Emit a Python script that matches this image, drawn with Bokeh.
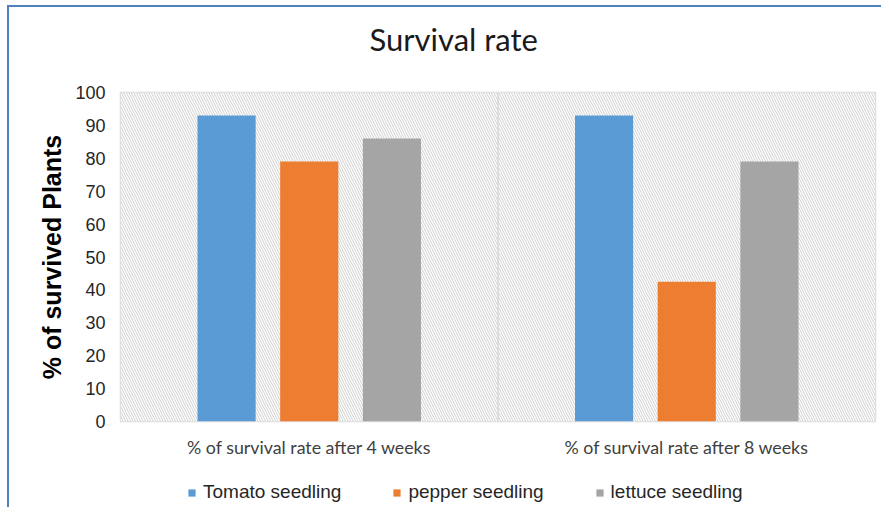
from bokeh.plotting import figure
from bokeh.layouts import column
from bokeh.models import (ColumnDataSource, FactorRange, BoxAnnotation, Legend,
                          LegendItem, Span, FixedTicker)
from bokeh.transform import dodge
from bokeh.embed import file_html
from bokeh.resources import INLINE

categories = ["% of survival rate after 4 weeks", "% of survival rate after 8 weeks"]
series_names = ["Tomato seedling", "pepper seedling", "lettuce seedling"]
tomato = [93, 93]
pepper = [79, 42.5]
lettuce = [86, 79]
colors = ["#5b9bd5", "#ed7d31", "#a5a5a5"]
y_ticks = list(range(0, 101, 10))

src = ColumnDataSource(dict(cat=categories, tomato=tomato, pepper=pepper, lettuce=lettuce))

# title strip
tf = figure(width=872, height=75, output_backend="svg", toolbar_location=None,
            x_range=(0, 1), y_range=(0, 1), min_border=0)
tf.axis.visible = False
tf.grid.grid_line_color = None
tf.outline_line_color = None
tf.title.text = "Survival rate"
tf.title.align = "left"
tf.title.offset = 249
tf.title.text_font = "Lato"
tf.title.text_font_size = "31px"
tf.title.text_font_style = "normal"
tf.title.text_color = "#1a1a1a"
tf.title.standoff = 21

p = figure(x_range=FactorRange(*categories), y_range=(0, 100),
           frame_width=755, frame_height=329, output_backend="svg", toolbar_location=None,
           min_border_left=111, min_border_right=6, min_border_top=10, min_border_bottom=50)

# hatched plot area background
p.add_layout(BoxAnnotation(fill_color="white", fill_alpha=1.0, line_alpha=0,
                           hatch_pattern="\\", hatch_color="#cfcfcf",
                           hatch_scale=5, hatch_weight=1, level="underlay"))

offs = [-0.219, 0.0, 0.219]
keys = ["tomato", "pepper", "lettuce"]
renderers = []
for k, off, c in zip(keys, offs, colors):
    r = p.vbar(x=dodge("cat", off, range=p.x_range), top=k, width=0.154, source=src,
               fill_color=c, line_color=None)
    renderers.append(r)

# category separator line
p.add_layout(Span(location=1.0, dimension="height", line_color="#d9d9d9", line_width=1.5))

p.xgrid.grid_line_color = None
p.ygrid.grid_line_color = "#d9d9d9"
p.ygrid.grid_line_width = 1.5
p.ygrid.level = "underlay"
p.outline_line_color = "#d9d9d9"
p.outline_line_width = 1.5

p.yaxis.ticker = FixedTicker(ticks=y_ticks)
p.yaxis.axis_line_color = None
p.yaxis.major_tick_line_color = None
p.yaxis.minor_tick_line_color = None
p.yaxis.major_tick_out = 0
p.yaxis.minor_tick_out = 0
p.yaxis.major_label_text_font = "Liberation Sans"
p.yaxis.major_label_text_font_size = "18px"
p.yaxis.major_label_text_color = "#262626"
p.yaxis.major_label_standoff = 15
p.yaxis.axis_label = "% of survived Plants"
p.yaxis.axis_label_text_font = "Liberation Sans"
p.yaxis.axis_label_text_font_size = "25px"
p.yaxis.axis_label_text_font_style = "bold"
p.yaxis.axis_label_text_color = "#000000"
p.yaxis.axis_label_standoff = 6

p.xaxis.axis_line_color = None
p.xaxis.major_tick_line_color = None
p.xaxis.minor_tick_line_color = None
p.xaxis.major_label_text_font = "Lato"
p.xaxis.major_label_text_font_size = "17.8px"
p.xaxis.major_label_text_color = "#404040"
p.xaxis.major_label_standoff = 8

# legend strip below the chart (swatch renderers sit outside the visible range)
lg = figure(width=872, height=36, output_backend="svg", toolbar_location=None,
            x_range=(0, 1), y_range=(0, 1), min_border=0)
lg.axis.visible = False
lg.grid.grid_line_color = None
lg.outline_line_color = None
swatches = [lg.vbar(x=[-10], top=[-5], bottom=[-6], width=0.1, fill_color=c, line_color=None)
            for c in colors]
legend = Legend(items=[LegendItem(label=n, renderers=[r]) for n, r in zip(series_names, swatches)],
                orientation="horizontal", location=(67, 4),
                label_text_font="Liberation Sans", label_text_font_size="19px",
                label_text_color="#262626", glyph_width=9, glyph_height=9,
                label_standoff=7, spacing=51, border_line_color=None,
                background_fill_alpha=0, margin=0, padding=0)
lg.add_layout(legend, "center")

layout = column(tf, p, lg, spacing=0, margin=(5, 0, 0, 7),
                styles={"border-left": "2px solid #4f81bd", "border-top": "2px solid #4f81bd"})

open("out.html", "w").write(file_html(layout, INLINE))
